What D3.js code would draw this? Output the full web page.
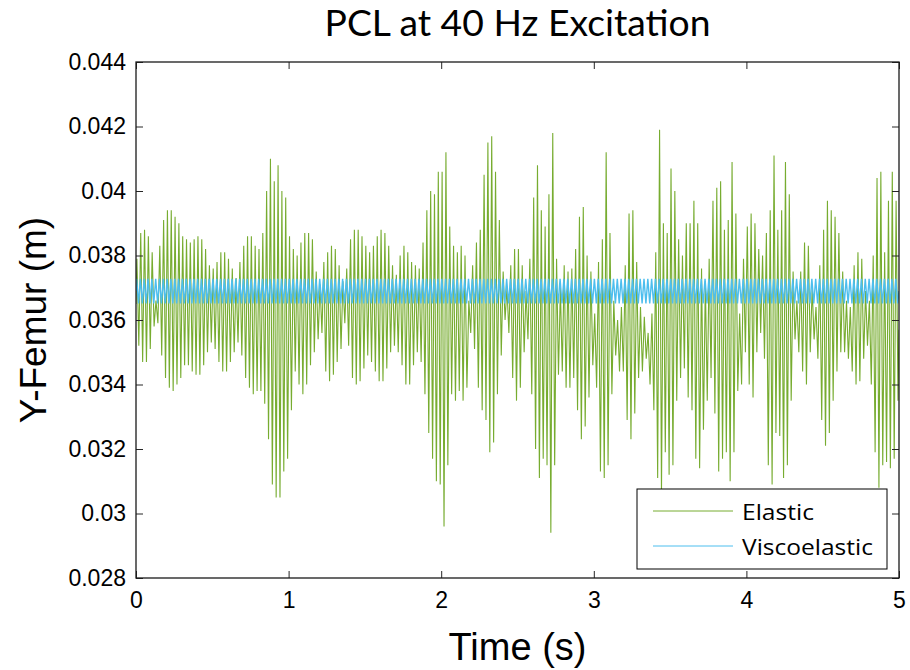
<!DOCTYPE html>
<html><head><meta charset="utf-8">
<script src="https://cdn.jsdelivr.net/npm/d3@7/dist/d3.min.js"></script>
<style>body{margin:0;background:#fff;} svg{display:block}</style>
</head><body><svg id="c" width="910" height="670"></svg>
<script>
// ---------- data ----------
const titleText = "PCL at 40 Hz Excitation";
const xLabelText = "Time (s)";
const yLabelText = "Y-Femur (m)";
const seriesNames = ["Elastic", "Viscoelastic"];
const xTicks = [0, 1, 2, 3, 4, 5];
const xTickLabels = ["0", "1", "2", "3", "4", "5"];
const yTicks = [0.028, 0.030, 0.032, 0.034, 0.036, 0.038, 0.040, 0.042, 0.044];
const yTickLabels = ["0.028", "0.03", "0.032", "0.034", "0.036", "0.038", "0.04", "0.042", "0.044"];
const cycleStep = 0.025;          // 40 Hz excitation period (s)
const timeEnd = 5;

// Elastic: per-cycle maxima and minima (200 cycles)
const elasticStart = 0.0365, elasticEnd = 0.0357;
const elasticPeaks = [
0.0379,0.0387,0.0388,0.0386,0.0381,0.0366,0.0383,0.0391,0.0394,0.0394,
0.0392,0.0390,0.0386,0.0385,0.0384,0.0385,0.0386,0.0385,0.0382,0.0377,
0.0376,0.0378,0.0381,0.0381,0.0379,0.0376,0.0373,0.0378,0.0383,0.0386,
0.0386,0.0383,0.0382,0.0387,0.0400,0.0410,0.0403,0.0408,0.0400,0.0398,
0.0386,0.0382,0.0380,0.0384,0.0387,0.0387,0.0385,0.0375,0.0371,0.0378,
0.0381,0.0383,0.0382,0.0377,0.0372,0.0376,0.0385,0.0388,0.0388,0.0386,
0.0383,0.0381,0.0383,0.0386,0.0388,0.0387,0.0383,0.0377,0.0374,0.0380,
0.0383,0.0381,0.0378,0.0377,0.0376,0.0384,0.0394,0.0400,0.0399,0.0406,
0.0406,0.0412,0.0389,0.0383,0.0381,0.0383,0.0380,0.0366,0.0377,0.0384,
0.0388,0.0405,0.0415,0.0417,0.0406,0.0391,0.0375,0.0370,0.0377,0.0382,
0.0382,0.0377,0.0369,0.0379,0.0398,0.0408,0.0394,0.0389,0.0399,0.0418,
0.0379,0.0370,0.0377,0.0375,0.0376,0.0382,0.0392,0.0395,0.0380,0.0375,
0.0362,0.0378,0.0385,0.0412,0.0387,0.0366,0.0360,0.0364,0.0377,0.0393,
0.0394,0.0378,0.0364,0.0361,0.0356,0.0362,0.0381,0.0419,0.0390,0.0387,
0.0407,0.0400,0.0385,0.0380,0.0390,0.0390,0.0397,0.0390,0.0376,0.0372,
0.0379,0.0397,0.0401,0.0403,0.0388,0.0391,0.0409,0.0393,0.0362,0.0379,
0.0389,0.0393,0.0390,0.0382,0.0380,0.0387,0.0394,0.0411,0.0388,0.0394,
0.0409,0.0399,0.0375,0.0366,0.0375,0.0384,0.0383,0.0370,0.0364,0.0377,
0.0388,0.0397,0.0394,0.0392,0.0387,0.0375,0.0366,0.0364,0.0377,0.0381,
0.0379,0.0369,0.0366,0.0380,0.0404,0.0406,0.0381,0.0397,0.0406,0.0397];
const elasticTroughs = [
0.0352,0.0347,0.0347,0.0351,0.0358,0.0359,0.0349,0.0342,0.0339,0.0338,
0.0340,0.0342,0.0346,0.0346,0.0344,0.0343,0.0343,0.0346,0.0350,0.0353,
0.0351,0.0347,0.0344,0.0344,0.0347,0.0350,0.0353,0.0349,0.0342,0.0339,
0.0337,0.0338,0.0338,0.0334,0.0323,0.0309,0.0305,0.0305,0.0313,0.0317,
0.0332,0.0344,0.0340,0.0337,0.0340,0.0346,0.0350,0.0354,0.0356,0.0344,
0.0341,0.0343,0.0347,0.0351,0.0359,0.0352,0.0342,0.0340,0.0341,0.0345,
0.0349,0.0347,0.0344,0.0341,0.0341,0.0345,0.0350,0.0352,0.0350,0.0346,
0.0340,0.0340,0.0346,0.0350,0.0347,0.0337,0.0325,0.0317,0.0310,0.0309,
0.0296,0.0315,0.0337,0.0335,0.0338,0.0335,0.0339,0.0356,0.0351,0.0339,
0.0332,0.0329,0.0319,0.0322,0.0337,0.0349,0.0360,0.0356,0.0342,0.0335,
0.0339,0.0350,0.0354,0.0337,0.0320,0.0311,0.0317,0.0315,0.0294,0.0315,
0.0343,0.0344,0.0339,0.0339,0.0342,0.0332,0.0323,0.0327,0.0336,0.0346,
0.0339,0.0313,0.0311,0.0315,0.0337,0.0349,0.0344,0.0344,0.0329,0.0323,
0.0331,0.0342,0.0344,0.0348,0.0340,0.0332,0.0311,0.0306,0.0319,0.0312,
0.0315,0.0335,0.0342,0.0345,0.0336,0.0332,0.0317,0.0314,0.0326,0.0335,
0.0342,0.0331,0.0313,0.0317,0.0319,0.0310,0.0319,0.0338,0.0340,0.0350,
0.0340,0.0336,0.0350,0.0356,0.0348,0.0315,0.0309,0.0325,0.0324,0.0311,
0.0315,0.0335,0.0354,0.0350,0.0344,0.0340,0.0350,0.0354,0.0348,0.0329,
0.0321,0.0325,0.0335,0.0344,0.0350,0.0350,0.0348,0.0344,0.0340,0.0341,
0.0348,0.0352,0.0340,0.0319,0.0308,0.0315,0.0316,0.0314,0.0317,0.0335];

// Viscoelastic: per-cycle maxima and minima (200 cycles)
const viscoStart = 0.0369, viscoEnd = 0.0369;
const viscoPeaks = [
0.03728,0.03728,0.03728,0.03728,0.03728,0.03728,0.03728,0.03728,0.03728,0.03728,0.03728,0.03728,0.03728,0.03728,0.03728,0.03728,0.03728,0.03728,0.03728,0.03728,
0.03728,0.03728,0.03728,0.03728,0.03728,0.03728,0.03728,0.03728,0.03728,0.03728,0.03728,0.03728,0.03728,0.03728,0.03728,0.03728,0.03728,0.03728,0.03728,0.03728,
0.03728,0.03728,0.03728,0.03728,0.03728,0.03728,0.03728,0.03728,0.03728,0.03728,0.03728,0.03728,0.03728,0.03728,0.03728,0.03728,0.03728,0.03728,0.03728,0.03728,
0.03728,0.03728,0.03728,0.03728,0.03728,0.03728,0.03728,0.03728,0.03728,0.03728,0.03728,0.03728,0.03728,0.03728,0.03728,0.03728,0.03728,0.03728,0.03728,0.03728,
0.03728,0.03728,0.03728,0.03728,0.03728,0.03728,0.03728,0.03728,0.03728,0.03728,0.03728,0.03728,0.03728,0.03728,0.03728,0.03728,0.03728,0.03728,0.03728,0.03728,
0.03728,0.03728,0.03728,0.03728,0.03728,0.03728,0.03728,0.03728,0.03728,0.03728,0.03728,0.03728,0.03728,0.03728,0.03728,0.03728,0.03728,0.03728,0.03728,0.03728,
0.03728,0.03728,0.03728,0.03728,0.03728,0.03728,0.03728,0.03728,0.03728,0.03728,0.03728,0.03728,0.03728,0.03728,0.03728,0.03728,0.03728,0.03728,0.03728,0.03728,
0.03728,0.03728,0.03728,0.03728,0.03728,0.03728,0.03728,0.03728,0.03728,0.03728,0.03728,0.03728,0.03728,0.03728,0.03728,0.03728,0.03728,0.03728,0.03728,0.03728,
0.03728,0.03728,0.03728,0.03728,0.03728,0.03728,0.03728,0.03728,0.03728,0.03728,0.03728,0.03728,0.03728,0.03728,0.03728,0.03728,0.03728,0.03728,0.03728,0.03728,
0.03728,0.03728,0.03728,0.03728,0.03728,0.03728,0.03728,0.03728,0.03728,0.03728,0.03728,0.03728,0.03728,0.03728,0.03728,0.03728,0.03728,0.03728,0.03728,0.03728];
const viscoTroughs = [
0.03651,0.03651,0.03651,0.03651,0.03651,0.03651,0.03651,0.03651,0.03651,0.03651,0.03651,0.03651,0.03651,0.03651,0.03651,0.03651,0.03651,0.03651,0.03651,0.03651,
0.03651,0.03651,0.03651,0.03651,0.03651,0.03651,0.03651,0.03651,0.03651,0.03651,0.03651,0.03651,0.03651,0.03651,0.03651,0.03651,0.03651,0.03651,0.03651,0.03651,
0.03651,0.03651,0.03651,0.03651,0.03651,0.03651,0.03651,0.03651,0.03651,0.03651,0.03651,0.03651,0.03651,0.03651,0.03651,0.03651,0.03651,0.03651,0.03651,0.03651,
0.03651,0.03651,0.03651,0.03651,0.03651,0.03651,0.03651,0.03651,0.03651,0.03651,0.03651,0.03651,0.03651,0.03651,0.03651,0.03651,0.03651,0.03651,0.03651,0.03651,
0.03651,0.03651,0.03651,0.03651,0.03651,0.03651,0.03651,0.03651,0.03651,0.03651,0.03651,0.03651,0.03651,0.03651,0.03651,0.03651,0.03651,0.03651,0.03651,0.03651,
0.03651,0.03651,0.03651,0.03651,0.03651,0.03651,0.03651,0.03651,0.03651,0.03651,0.03651,0.03651,0.03651,0.03651,0.03651,0.03651,0.03651,0.03651,0.03651,0.03651,
0.03651,0.03651,0.03651,0.03651,0.03651,0.03651,0.03651,0.03651,0.03651,0.03651,0.03651,0.03651,0.03651,0.03651,0.03651,0.03651,0.03651,0.03651,0.03651,0.03651,
0.03651,0.03651,0.03651,0.03651,0.03651,0.03651,0.03651,0.03651,0.03651,0.03651,0.03651,0.03651,0.03651,0.03651,0.03651,0.03651,0.03651,0.03651,0.03651,0.03651,
0.03651,0.03651,0.03651,0.03651,0.03651,0.03651,0.03651,0.03651,0.03651,0.03651,0.03651,0.03651,0.03651,0.03651,0.03651,0.03651,0.03651,0.03651,0.03651,0.03651,
0.03651,0.03651,0.03651,0.03651,0.03651,0.03651,0.03651,0.03651,0.03651,0.03651,0.03651,0.03651,0.03651,0.03651,0.03651,0.03651,0.03651,0.03651,0.03651,0.03651];

const colors = ["#77AC30", "#4DBEEE"];

// ---------- build point lists ----------
function buildSeries(start, peaks, troughs, end, phase) {
  const pts = [{t: 0, v: start}];
  for (let k = 0; k < peaks.length; k++) {
    pts.push({t: phase + k * cycleStep, v: peaks[k]});
    pts.push({t: phase + (k + 0.5) * cycleStep, v: troughs[k]});
  }
  pts.push({t: timeEnd, v: end});
  return pts;
}
const elastic = buildSeries(elasticStart, elasticPeaks, elasticTroughs, elasticEnd, 0.006);
const visco = buildSeries(viscoStart, viscoPeaks, viscoTroughs, viscoEnd, 0.004);

// ---------- chart ----------
const L = 136, R = 899, T = 62, B = 578;
const svg = d3.select("#c");
const x = d3.scaleLinear().domain([0, 5]).range([L, R]);
const y = d3.scaleLinear().domain([0.028, 0.044]).range([B, T]);

svg.append("defs").append("clipPath").attr("id", "clip")
  .append("rect").attr("x", L).attr("y", T).attr("width", R - L).attr("height", B - T);

const line = d3.line().x(d => x(d.t)).y(d => y(d.v));
const g = svg.append("g").attr("clip-path", "url(#clip)");
g.append("path").datum(elastic).attr("d", line)
  .attr("fill", "none").attr("stroke", colors[0]).attr("stroke-width", 1.1);
g.append("path").datum(visco).attr("d", line)
  .attr("fill", "none").attr("stroke", colors[1]).attr("stroke-width", 1.4);

// axes
const tickFont = "'Liberation Sans', Arial, sans-serif";
const ax = svg.append("g").attr("transform", `translate(0,${B})`)
  .call(d3.axisBottom(x).tickValues(xTicks).tickFormat((d, i) => xTickLabels[i]).tickSize(-7).tickPadding(13));
const axT = svg.append("g").attr("transform", `translate(0,${T})`)
  .call(d3.axisTop(x).tickValues(xTicks).tickFormat("").tickSize(-7));
const ay = svg.append("g").attr("transform", `translate(${L},0)`)
  .call(d3.axisLeft(y).tickValues(yTicks).tickFormat((d, i) => yTickLabels[i]).tickSize(-7).tickPadding(10));
const ayR = svg.append("g").attr("transform", `translate(${R},0)`)
  .call(d3.axisRight(y).tickValues(yTicks).tickFormat("").tickSize(-7));
[ax, axT, ay, ayR].forEach(a => {
  a.select(".domain").remove();
  a.selectAll(".tick line").attr("stroke", "#262626").attr("stroke-width", 1);
  a.selectAll("text").attr("font-family", tickFont).attr("font-size", 23).attr("fill", "#000");
});
ax.selectAll("text").attr("dy", "0.75em");

svg.append("rect").attr("x", L).attr("y", T).attr("width", R - L).attr("height", B - T)
  .attr("fill", "none").attr("stroke", "#1a1a1a").attr("stroke-width", 1.3);

// title and labels
svg.append("text").attr("x", (L + R) / 2).attr("y", 36).attr("text-anchor", "middle")
  .attr("font-family", "Lato, 'Open Sans', sans-serif").attr("font-size", 37)
  .attr("textLength", 386).attr("lengthAdjust", "spacingAndGlyphs").text(titleText);
svg.append("text").attr("x", (L + R) / 2).attr("y", 660).attr("text-anchor", "middle")
  .attr("font-family", tickFont).attr("font-size", 38).text(xLabelText);
svg.append("text").attr("transform", `translate(46,${(T + B) / 2}) rotate(-90)`).attr("text-anchor", "middle")
  .attr("font-family", tickFont).attr("font-size", 37).text(yLabelText);

// legend
const lg = svg.append("g");
lg.append("rect").attr("x", 637).attr("y", 489).attr("width", 250).attr("height", 80)
  .attr("fill", "#fff").attr("stroke", "#000").attr("stroke-width", 1);
const legendRows = [{y: 511, w: 72}, {y: 546, w: 131}];
seriesNames.forEach((n, i) => {
  lg.append("line").attr("x1", 653).attr("x2", 733).attr("y1", legendRows[i].y).attr("y2", legendRows[i].y)
    .attr("stroke", colors[i]).attr("stroke-width", 1);
  lg.append("text").attr("x", 742).attr("y", legendRows[i].y + 9)
    .attr("font-family", "'Open Sans', sans-serif").attr("font-size", 22)
    .attr("textLength", legendRows[i].w).attr("lengthAdjust", "spacingAndGlyphs").text(n);
});
</script></body></html>
